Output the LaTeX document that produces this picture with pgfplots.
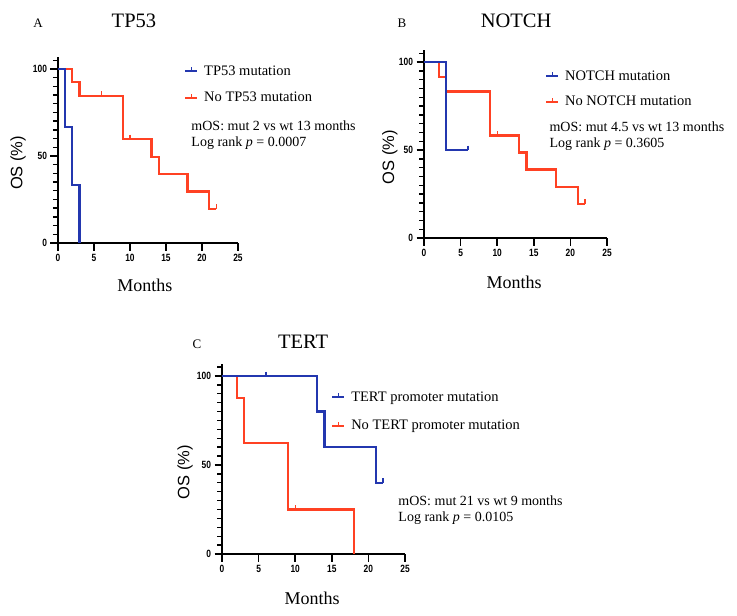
\documentclass[border=0pt]{standalone}
\usepackage{pgfplots}
\pgfplotsset{compat=1.18}
\usepackage{fontspec}
\setmainfont{Liberation Serif}
\newfontfamily\labsans{Liberation Sans}
\newfontfamily\condfont[FakeStretch=0.8]{Liberation Sans}
\definecolor{kmblue}{RGB}{35,55,175}
\definecolor{kmred}{RGB}{255,65,35}
\newcommand{\fs}[1]{\fontsize{#1}{#1}\selectfont}

\pgfplotsset{
  kmaxis/.style={
    scale only axis, clip=false,
    xmin=0, xmax=25, ymin=0, ymax=107,
    axis lines=left,
    axis line style={-, line width=2.2bp, black},
    xtick pos=left, ytick pos=left,
    xtick={0,5,10,15,20,25}, ytick={0,50,100},
    minor ytick={5,10,15,20,25,30,35,40,45,55,60,65,70,75,80,85,90,95,105},
    tick align=outside,
    major tick length=7.5bp, minor tick length=5bp,
    major tick style={black, line width=1.6bp},
    minor tick style={black, line width=1.4bp},
    tick label style={font=\condfont\bfseries\fs{10.5bp}},
    /pgf/number format/assume math mode=true,
    xlabel={\fs{18bp}Months},
    ylabel={\labsans\fs{16.5bp}OS (\%)},
    every axis title shift=0pt,
    title style={anchor=base, font=\fs{20.5bp}},
    legend image code/.code={
      \draw[##1, line width=2bp] (0bp,0bp) -- (12bp,0bp);
      \draw[##1, line width=1.3bp] (6bp,0bp) -- (6bp,4bp);
    },
    legend style={draw=none, fill=none, inner sep=0pt, anchor=west,
      nodes={inner sep=1bp}, font=\fs{14.5bp},
      /tikz/every odd column/.append style={column sep=5bp}},
    legend cell align=left,
  },
  km/.style={const plot, no marks, line width=2.2bp, forget plot},
  cens/.style={only marks, mark=|, mark size=2.2bp, forget plot,
    mark options={line width=1.3bp, yshift=2.2bp}},
}

\begin{document}
\begin{tikzpicture}
\useasboundingbox (0,0) rectangle (737bp,-616bp);

% ---------------- Panel A: TP53
\begin{axis}[kmaxis, at={(58bp,-243bp)}, anchor=south west,
  width=180bp, height=186.2bp,
  title={TP53}, title style={at={(axis description cs:0.422,1.155)}},
  every axis x label/.style={at={(axis description cs:0.483,-0.226)}, anchor=center},
  every axis y label/.style={at={(axis description cs:-0.222,0.43)}, rotate=90, anchor=center},
  legend style={at={(axis description cs:0.7,0.851)}, row sep=13.5bp}]
\addlegendimage{kmblue}\addlegendentry{TP53 mutation}
\addlegendimage{kmred}\addlegendentry{No TP53 mutation}
\addplot[km, kmred] coordinates {(0,100) (2,92.3) (3,84.6) (9,59.7) (13,49.4) (14,39.5) (18,29.6) (21,19.7) (22,19.7)};
\addplot[cens, kmred] coordinates {(6,84.6) (10,59.7) (22,19.7)};
\addplot[km, kmblue] coordinates {(0,100) (1,66.7) (2,33.3) (3,0)};
\node[anchor=base, font=\fs{13bp}] at (axis description cs:-0.111,1.155) {A};
\node[anchor=west, align=left, font=\fontsize{14bp}{16bp}\selectfont] at (axis description cs:0.722,0.58)
  {mOS: mut 2 vs wt 13 months\\Log rank \textit{p} = 0.0007};
\end{axis}

% ---------------- Panel B: NOTCH
\begin{axis}[kmaxis, at={(424bp,-238bp)}, anchor=south west,
  width=183bp, height=188.3bp,
  title={NOTCH}, title style={at={(axis description cs:0.503,1.12)}},
  every axis x label/.style={at={(axis description cs:0.492,-0.234)}, anchor=center},
  every axis y label/.style={at={(axis description cs:-0.186,0.43)}, rotate=90, anchor=center},
  legend style={at={(axis description cs:0.661,0.791)}, row sep=12.5bp}]
\addlegendimage{kmblue}\addlegendentry{NOTCH mutation}
\addlegendimage{kmred}\addlegendentry{No NOTCH mutation}
\addplot[km, kmred] coordinates {(0,100) (2,91.7) (3,83.3) (9,58.3) (13,48.6) (14,38.9) (18,29.2) (21,19.4) (22,19.4)};
\addplot[cens, kmred] coordinates {(10,58.3) (22,19.4)};
\addplot[km, kmblue] coordinates {(0,100) (3,50) (6,50)};
\addplot[cens, kmblue] coordinates {(6,50)};
\node[anchor=base, font=\fs{13bp}] at (axis description cs:-0.12,1.12) {B};
\node[anchor=west, align=left, font=\fontsize{14bp}{16bp}\selectfont] at (axis description cs:0.667,0.54)
  {mOS: mut 4.5 vs wt 13 months\\Log rank \textit{p} = 0.3605};
\end{axis}

% ---------------- Panel C: TERT
\begin{axis}[kmaxis, at={(222bp,-554bp)}, anchor=south west,
  width=183bp, height=190.5bp,
  title={TERT}, title style={at={(axis description cs:0.443,1.081)}},
  every axis x label/.style={at={(axis description cs:0.492,-0.231)}, anchor=center},
  every axis y label/.style={at={(axis description cs:-0.202,0.43)}, rotate=90, anchor=center},
  legend style={at={(axis description cs:0.596,0.748)}, row sep=15.5bp}]
\addlegendimage{kmblue}\addlegendentry{TERT promoter mutation}
\addlegendimage{kmred}\addlegendentry{No TERT promoter mutation}
\addplot[km, kmred] coordinates {(0,100) (2,87.5) (3,62.5) (9,25) (18,0)};
\addplot[cens, kmred] coordinates {(10,25)};
\addplot[km, kmblue] coordinates {(0,100) (13,80) (14,60) (21,40) (22,40)};
\addplot[cens, kmblue] coordinates {(6,100) (22,40)};
\node[anchor=base, font=\fs{13bp}] at (axis description cs:-0.137,1.081) {C};
\node[anchor=west, align=left, font=\fontsize{14bp}{16bp}\selectfont] at (axis description cs:0.945,0.231)
  {mOS: mut 21 vs wt 9 months\\Log rank \textit{p} = 0.0105};
\end{axis}
\end{tikzpicture}
\end{document}
